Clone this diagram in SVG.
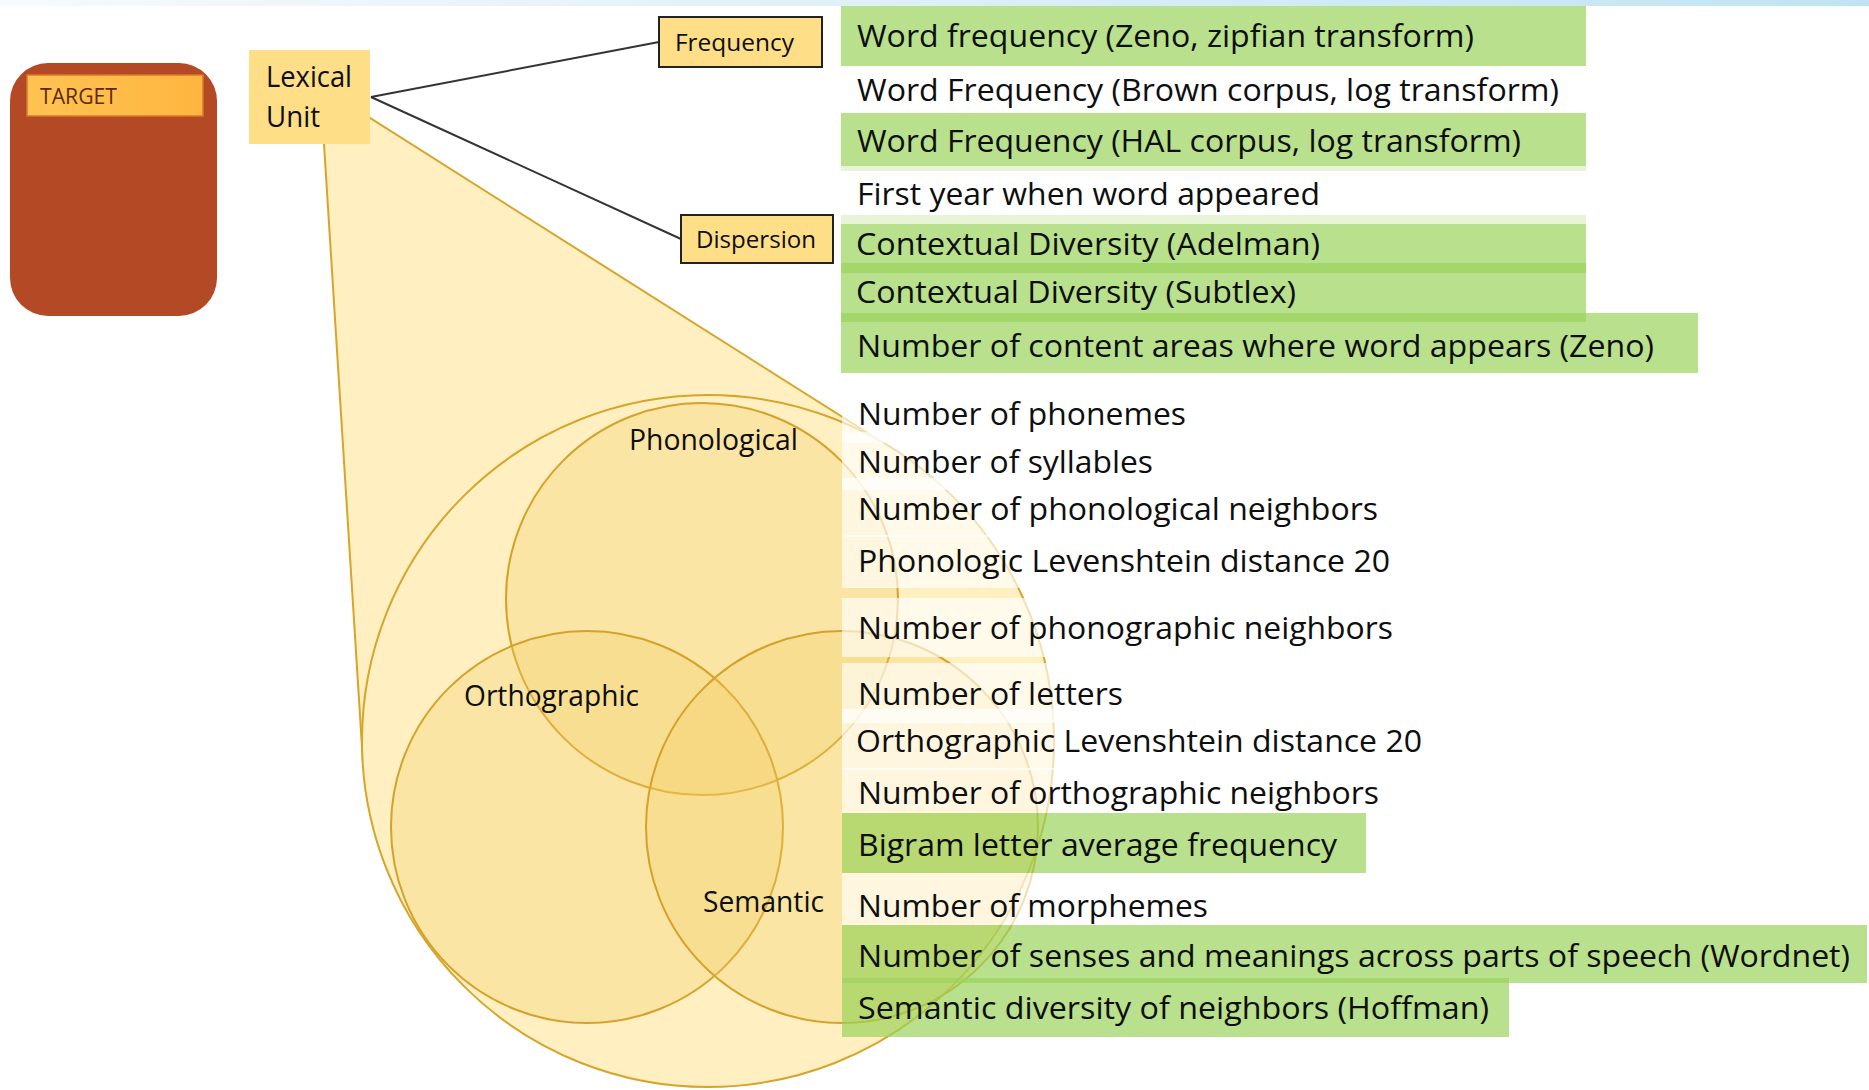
<svg xmlns="http://www.w3.org/2000/svg" width="1869" height="1090" viewBox="0 0 1869 1090">
  <defs>
    <linearGradient id="topbar" x1="0" y1="0" x2="1" y2="0">
      <stop offset="0" stop-color="#F6FAFC"/>
      <stop offset="0.5" stop-color="#DDEFF6"/>
      <stop offset="1" stop-color="#BFE4F1"/>
    </linearGradient>
    <linearGradient id="tgt" x1="0" y1="0" x2="1" y2="0">
      <stop offset="0" stop-color="#FFC352"/>
      <stop offset="1" stop-color="#FFB53F"/>
    </linearGradient>
    <style>
      text { font-family: "Open Sans", "Liberation Sans", sans-serif; fill: #0E0E0E; }
      .row { font-size: 31px; }
      .lbl { font-size: 30px; }
      .small { font-size: 24px; }
      .funnel { fill: #FFEFC1; stroke: #D6A52A; stroke-width: 2; }
      .venn { fill: #F3CD63; fill-opacity: 0.3; stroke: #D4A22A; stroke-width: 2; }
      .grn { fill: #9BD35B; fill-opacity: 0.7; }
      .wht { fill: #FFFFFF; fill-opacity: 0.65; }
      .ybox { fill: #FFDE88; }
      .bbox { fill: #FFDE88; stroke: #222222; stroke-width: 2; }
      .conn { stroke: #333333; stroke-width: 2; fill: none; }
    </style>
  </defs>

  <rect x="0" y="0" width="1869" height="6" fill="url(#topbar)"/>

  <g id="target">
    <rect x="10" y="63" width="207" height="253" rx="38" ry="38" fill="#B44926"/>
    <rect x="27" y="75" width="176" height="41" fill="url(#tgt)" stroke="#D9782C" stroke-width="1.5"/>
    <text x="40" y="104" font-size="21" textLength="77" lengthAdjust="spacingAndGlyphs" style="fill:#5E2A0C">TARGET</text>
  </g>

  <g id="venn">
    <polygon class="funnel" points="324,144 370,118 893,449 363,763"/>
    <circle class="funnel" cx="708" cy="741" r="346"/>
    <circle id="phonological" class="venn" cx="702" cy="599" r="196"/>
    <circle id="orthographic" class="venn" cx="587" cy="827" r="196"/>
    <circle id="semantic" class="venn" cx="842" cy="827" r="196"/>
    <text class="lbl" x="629" y="450" textLength="169" lengthAdjust="spacingAndGlyphs">Phonological</text>
    <text class="lbl" x="464" y="706" textLength="175" lengthAdjust="spacingAndGlyphs">Orthographic</text>
    <text class="lbl" x="703" y="912" textLength="121" lengthAdjust="spacingAndGlyphs">Semantic</text>
  </g>

  <g id="top-list">
    <rect class="grn" x="841" y="6" width="745" height="60"/>
    <rect class="grn" x="841" y="113" width="745" height="58"/>
    <rect class="grn" x="841" y="215" width="745" height="58"/>
    <rect class="grn" x="841" y="263" width="745" height="59"/>
    <rect class="grn" x="841" y="313" width="857" height="60"/>
    <rect class="wht" x="841" y="166" width="745" height="58"/>
    <text class="row" x="857" y="47" textLength="617" lengthAdjust="spacingAndGlyphs">Word frequency (Zeno, zipfian transform)</text>
    <text class="row" x="857" y="101" textLength="702" lengthAdjust="spacingAndGlyphs">Word Frequency (Brown corpus, log transform)</text>
    <text class="row" x="857" y="152" textLength="664" lengthAdjust="spacingAndGlyphs">Word Frequency (HAL corpus, log transform)</text>
    <text class="row" x="857" y="205" textLength="463" lengthAdjust="spacingAndGlyphs">First year when word appeared</text>
    <text class="row" x="856" y="255" textLength="464" lengthAdjust="spacingAndGlyphs">Contextual Diversity (Adelman)</text>
    <text class="row" x="856" y="303" textLength="440" lengthAdjust="spacingAndGlyphs">Contextual Diversity (Subtlex)</text>
    <text class="row" x="857" y="357" textLength="797" lengthAdjust="spacingAndGlyphs">Number of content areas where word appears (Zeno)</text>
  </g>

  <g id="venn-list">
    <rect class="wht" x="842" y="400" width="228" height="43"/>
    <rect class="wht" x="842" y="432" width="228" height="58"/>
    <rect class="wht" x="842" y="478" width="228" height="59"/>
    <rect class="wht" x="842" y="535" width="228" height="53"/>
    <rect class="wht" x="842" y="598" width="228" height="59"/>
    <rect class="wht" x="842" y="663" width="228" height="60"/>
    <rect class="wht" x="842" y="709" width="220" height="61"/>
    <rect class="wht" x="842" y="768" width="228" height="45"/>
    <rect class="wht" x="842" y="873" width="228" height="52"/>
    <rect class="grn" x="842" y="813" width="524" height="60"/>
    <rect class="grn" x="842" y="925" width="1025" height="58"/>
    <rect class="grn" x="842" y="978" width="667" height="59"/>
    <text class="row" x="858" y="425" textLength="328" lengthAdjust="spacingAndGlyphs">Number of phonemes</text>
    <text class="row" x="858" y="473" textLength="295" lengthAdjust="spacingAndGlyphs">Number of syllables</text>
    <text class="row" x="858" y="520" textLength="520" lengthAdjust="spacingAndGlyphs">Number of phonological neighbors</text>
    <text class="row" x="858" y="572" textLength="532" lengthAdjust="spacingAndGlyphs">Phonologic Levenshtein distance 20</text>
    <text class="row" x="858" y="639" textLength="535" lengthAdjust="spacingAndGlyphs">Number of phonographic neighbors</text>
    <text class="row" x="858" y="705" textLength="265" lengthAdjust="spacingAndGlyphs">Number of letters</text>
    <text class="row" x="856" y="752" textLength="566" lengthAdjust="spacingAndGlyphs">Orthographic Levenshtein distance 20</text>
    <text class="row" x="858" y="804" textLength="521" lengthAdjust="spacingAndGlyphs">Number of orthographic neighbors</text>
    <text class="row" x="858" y="856" textLength="479" lengthAdjust="spacingAndGlyphs">Bigram letter average frequency</text>
    <text class="row" x="858" y="917" textLength="350" lengthAdjust="spacingAndGlyphs">Number of morphemes</text>
    <text class="row" x="858" y="967" textLength="992" lengthAdjust="spacingAndGlyphs">Number of senses and meanings across parts of speech (Wordnet)</text>
    <text class="row" x="858" y="1019" textLength="631" lengthAdjust="spacingAndGlyphs">Semantic diversity of neighbors (Hoffman)</text>
  </g>

  <g id="connectors">
    <line class="conn" x1="371" y1="97" x2="659" y2="42"/>
    <line class="conn" x1="371" y1="97" x2="681" y2="239"/>
  </g>

  <g id="lexical-unit">
    <rect class="ybox" x="249" y="50" width="121" height="94"/>
    <text x="266" y="87" font-size="30" textLength="86" lengthAdjust="spacingAndGlyphs">Lexical</text>
    <text x="266" y="127" font-size="30" textLength="54" lengthAdjust="spacingAndGlyphs">Unit</text>
  </g>

  <g id="frequency">
    <rect class="bbox" x="659" y="17" width="163" height="50"/>
    <text class="small" x="675" y="51" textLength="119" lengthAdjust="spacingAndGlyphs">Frequency</text>
  </g>

  <g id="dispersion">
    <rect class="bbox" x="681" y="215" width="152" height="48"/>
    <text class="small" x="696" y="248" textLength="120" lengthAdjust="spacingAndGlyphs">Dispersion</text>
  </g>
</svg>
